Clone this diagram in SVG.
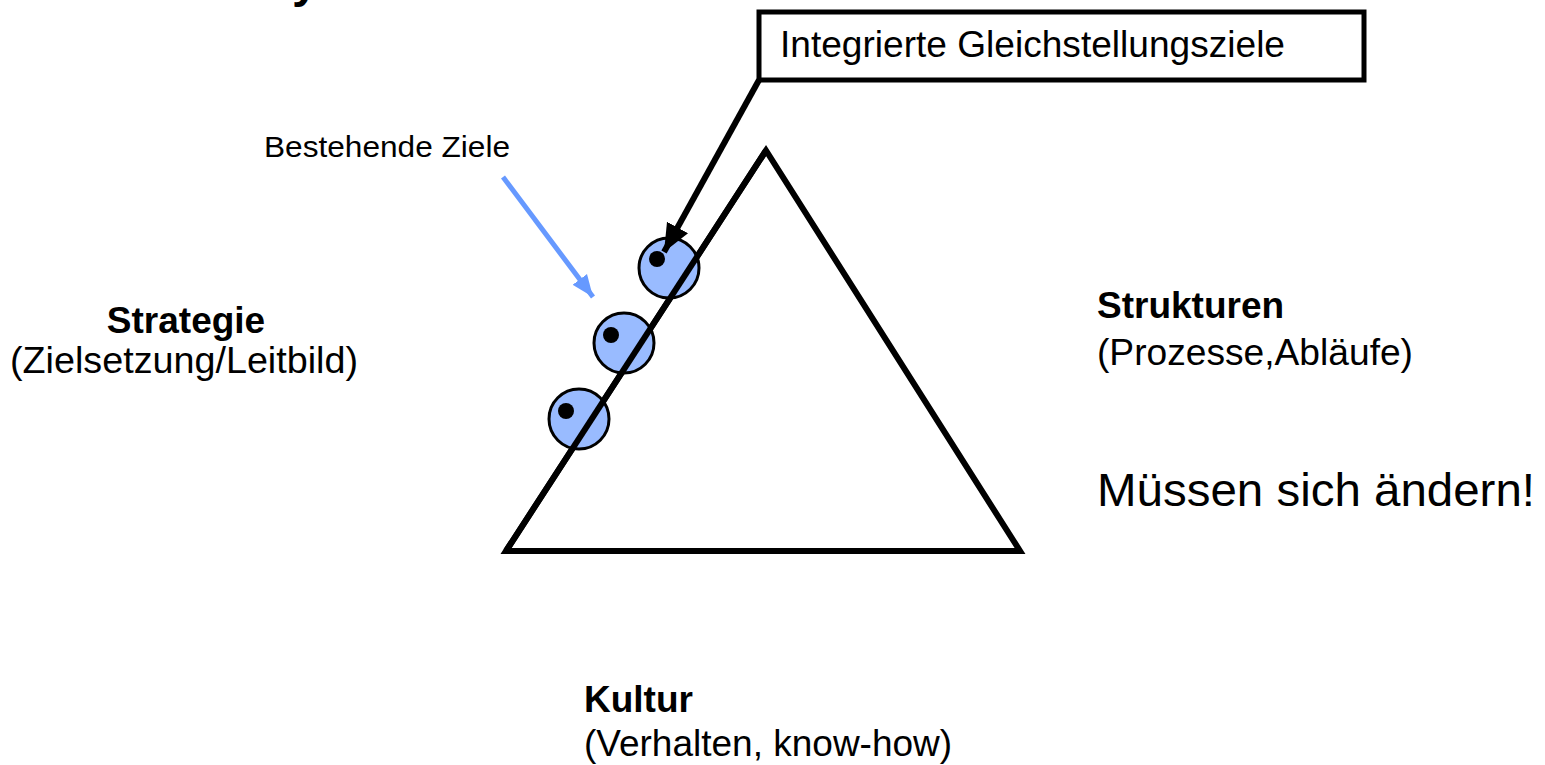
<svg xmlns="http://www.w3.org/2000/svg" width="1545" height="765" viewBox="0 0 1545 765">
<style>
text{font-family:"Liberation Sans",Arial,sans-serif;fill:#000}
.b{font-weight:bold}
.t37{font-size:37px}
.circ{fill:#99bbff;stroke:#000;stroke-width:3}
.dot{fill:#000}
</style>
<defs>
<marker id="ahBlack" markerUnits="userSpaceOnUse" markerWidth="30" markerHeight="30" viewBox="0 0 30 30" refX="28" refY="15" orient="auto">
<path d="M0,3 L28,15 L0,27 Z" fill="#000"/>
</marker>
<marker id="ahBlue" markerUnits="userSpaceOnUse" markerWidth="24" markerHeight="24" viewBox="0 0 24 24" refX="22" refY="12" orient="auto">
<path d="M0,3 L22,12 L0,21 Z" fill="#6699ff"/>
</marker>
</defs>
<rect width="1545" height="765" fill="#fff"/>
<text class="b" x="292" y="-3" font-size="48">y</text>

<g id="triangle">
<path d="M766,150.5 L506,551 L1020,551 Z" fill="none" stroke="#000" stroke-width="6" stroke-linejoin="miter" stroke-miterlimit="10"/>
</g>

<g id="goal1"><circle class="circ" cx="669" cy="268" r="30"/><circle class="dot" cx="657" cy="259" r="8"/></g>
<g id="goal2"><circle class="circ" cx="624" cy="343" r="30"/><circle class="dot" cx="611" cy="335" r="8"/></g>
<g id="goal3"><circle class="circ" cx="579" cy="419" r="30"/><circle class="dot" cx="566" cy="411" r="8"/></g>
<g id="triangle-left-over">
<line x1="766" y1="150.5" x2="506" y2="551" stroke="#000" stroke-width="6"/>
</g>

<g id="box">
<rect x="759" y="12" width="605" height="68" fill="#fff" stroke="#000" stroke-width="5"/>
<text class="t37" x="780" y="57" textLength="505" lengthAdjust="spacingAndGlyphs">Integrierte Gleichstellungsziele</text>
</g>

<g id="connectors">
<line x1="759" y1="80" x2="664" y2="252" stroke="#000" stroke-width="6" marker-end="url(#ahBlack)"/>
<line x1="503" y1="177" x2="593" y2="297" stroke="#6699ff" stroke-width="5" marker-end="url(#ahBlue)"/>
</g>

<g id="label-bestehende"><text x="264" y="157" font-size="29" textLength="246" lengthAdjust="spacingAndGlyphs">Bestehende Ziele</text></g>
<g id="label-strategie">
<text class="b t37" x="186" y="333" text-anchor="middle">Strategie</text>
<text class="t37" x="10" y="373" textLength="348" lengthAdjust="spacingAndGlyphs">(Zielsetzung/Leitbild)</text>
</g>
<g id="label-strukturen">
<text class="b t37" x="1097" y="318">Strukturen</text>
<text class="t37" x="1097" y="365" textLength="316" lengthAdjust="spacingAndGlyphs">(Prozesse,Abläufe)</text>
<text x="1097" y="506" font-size="47" textLength="438" lengthAdjust="spacingAndGlyphs">Müssen sich ändern!</text>
</g>
<g id="label-kultur">
<text class="b t37" x="584" y="712">Kultur</text>
<text class="t37" x="584" y="756">(Verhalten, know-how)</text>
</g>
</svg>
